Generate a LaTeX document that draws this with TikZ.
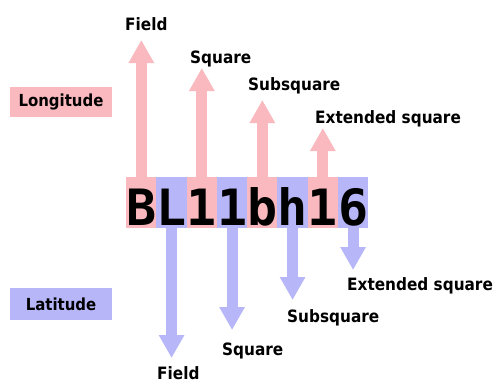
\documentclass[tikz,border=0pt]{standalone}
\usepackage{fontspec}
\newfontfamily\labfont{DejaVu Sans}[FakeStretch=0.9]
\newfontfamily\codefont{DejaVu Sans Mono Bold}
\usetikzlibrary{arrows.meta}
\definecolor{lonpink}{RGB}{250,185,190}
\definecolor{latblue}{RGB}{182,182,248}
\begin{document}
\begin{tikzpicture}[x=1pt,y=-1pt,
  chr/.style={inner sep=0pt, minimum width=30.25pt, text height=48pt, text depth=3pt,
    font=\codefont\fontsize{50}{50}\selectfont, anchor=north west},
  lab/.style={font=\labfont\bfseries\fontsize{17}{18}\selectfont, inner sep=0pt, anchor=base west},
  boxlab/.style={font=\labfont\bfseries\fontsize{16.6}{18}\selectfont, inner sep=0pt, minimum width=102pt},
  uparr/.style={draw=lonpink, line width=11pt, -{Triangle[width=24pt,length=23pt]}},
  dnarr/.style={draw=latblue, line width=11pt, -{Triangle[width=24pt,length=23pt]}}]
\useasboundingbox[fill=white] (0,0) rectangle (498,383);
% legend boxes
\node[boxlab, fill=lonpink, minimum height=30pt] (lon) at (61,102) {Longitude};
\node[boxlab, fill=latblue, minimum height=32pt] (lat) at (61,304) {Latitude};
% characters
\node[chr, fill=lonpink] (c1) at (126,177) {B};
\node[chr, fill=latblue] (c2) at (156.25,177) {L};
\node[chr, fill=lonpink] (c3) at (186.5,177) {1};
\node[chr, fill=latblue] (c4) at (216.75,177) {1};
\node[chr, fill=lonpink] (c5) at (247,177) {b};
\node[chr, fill=latblue] (c6) at (277.25,177) {h};
\node[chr, fill=lonpink] (c7) at (307.5,177) {1};
\node[chr, fill=latblue] (c8) at (337.75,177) {6};
% tips
\coordinate (t1) at (c1.north |- 0,40);
\coordinate (t3) at (c3.north |- 0,68);
\coordinate (t5) at (c5.north |- 0,100);
\coordinate (t7) at (c7.north |- 0,128);
\coordinate (t2) at (c2.south |- 0,358);
\coordinate (t4) at (c4.south |- 0,330);
\coordinate (t6) at (c6.south |- 0,300);
\coordinate (t8) at (c8.south |- 0,270);
\draw[uparr] (c1.north) -- (t1);
\draw[uparr] (c3.north) -- (t3);
\draw[uparr] (c5.north) -- (t5);
\draw[uparr] (c7.north) -- (t7);
\draw[dnarr] (c2.south) -- (t2);
\draw[dnarr] (c4.south) -- (t4);
\draw[dnarr] (c6.south) -- (t6);
\draw[dnarr] (c8.south) -- (t8);
% labels
\node[lab] (l1) at (125,30) {Field};
\node[lab] (l3) at (190,63) {Square};
\node[lab] (l5) at (248,90) {Subsquare};
\node[lab] (l7) at (315,123) {Extended square};
\node[lab] (l8) at (347,290) {Extended square};
\node[lab] (l6) at (287,322) {Subsquare};
\node[lab] (l4) at (222,355) {Square};
\node[lab] (l2) at (157,379) {Field};
\end{tikzpicture}
\end{document}
